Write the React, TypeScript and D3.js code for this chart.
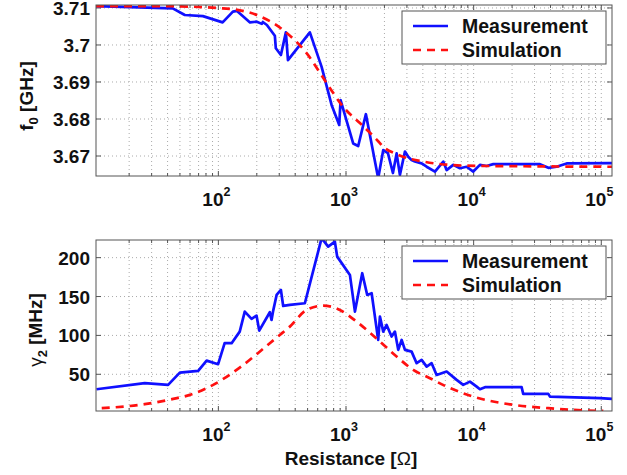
import React, { useEffect, useRef } from "react";
import * as d3 from "d3";

// resonance frequency f0 [GHz] vs resistance [Ohm]
const f0MeasR = [11, 43.9, 54.6, 75.7, 108, 130, 140, 177, 200, 219, 223, 240, 277, 282, 309, 338, 351, 521, 644, 771, 885, 907, 1138, 1246, 1432, 1787, 1958, 2130, 2331, 2492, 2644, 2896, 3073, 3265, 3465, 3911, 4283, 4977, 5782, 6142, 6918, 7811, 8811, 9930, 11200, 12640, 14250, 33100, 38460, 44700, 53550, 121300];
const f0MeasVal = [3.7105, 3.7099, 3.7081, 3.7078, 3.7061, 3.709, 3.7092, 3.7061, 3.7063, 3.7057, 3.7062, 3.7054, 3.7025, 3.6991, 3.6973, 3.7034, 3.6959, 3.7034, 3.6941, 3.6838, 3.6784, 3.6851, 3.6734, 3.6727, 3.6813, 3.664, 3.6716, 3.6708, 3.6654, 3.6707, 3.6649, 3.6712, 3.6698, 3.6689, 3.6685, 3.668, 3.6671, 3.6658, 3.6685, 3.6662, 3.6676, 3.6667, 3.6671, 3.6658, 3.6676, 3.6673, 3.6678, 3.6678, 3.6668, 3.6671, 3.668, 3.6681];
const f0SimR = [11, 34.9, 108, 200, 320, 491, 705, 950, 1285, 1787, 1958, 2492, 4010, 8811, 33100, 121300];
const f0SimVal = [3.7105, 3.7105, 3.7099, 3.7081, 3.7041, 3.6978, 3.6897, 3.6833, 3.6789, 3.674, 3.6725, 3.6705, 3.6685, 3.6674, 3.6672, 3.6671];

// linewidth gamma2 [MHz] vs resistance [Ohm]
const gMeasR = [11.1, 26.5, 40.4, 49.9, 69.5, 80.9, 99.6, 112, 127, 147, 161, 182, 199, 209, 253, 261, 269, 286, 309, 322, 363, 476, 644, 725, 818, 853, 1073, 1175, 1340, 1466, 1588, 1787, 1844, 1958, 2080, 2276, 2416, 2566, 2728, 2896, 3265, 3575, 3911, 4283, 4686, 5128, 6142, 7356, 8286, 9352, 10560, 11200, 12270, 23770, 24450, 38460, 39630, 97720, 121300];
const gMeasVal = [30.8, 38.6, 36.4, 52.2, 54.4, 67.6, 63, 90, 90, 104.9, 130.6, 121.2, 125.5, 106.2, 129.8, 119.9, 131.9, 152, 158.5, 137.9, 139.2, 141.4, 225, 214.1, 220.6, 201.3, 177.8, 130.6, 180, 152, 154.2, 94.2, 124.2, 104.9, 113.5, 98.5, 104.9, 81.4, 94.2, 81.4, 79.2, 64.3, 68.5, 59.9, 64.3, 49.2, 53.5, 42.8, 36.4, 40.6, 34.2, 30.8, 33.4, 33.4, 24.8, 24.8, 21.3, 19.3, 18.4];
const gSimR = [12.2, 26.5, 44.3, 59.8, 91.1, 147, 253, 303, 363, 491, 663, 895, 1211, 1787, 2492, 3364, 4543, 6142, 9930, 20440, 38460, 60390, 103700];
const gSimVal = [6.4, 11.6, 18.4, 23.5, 36.4, 58.6, 90, 100.6, 111.3, 132.8, 138.3, 132.8, 117.7, 94.2, 72.8, 55.7, 45, 34.2, 21.3, 10.7, 6.4, 4.2, 2.9];

const xDecades = [100, 1000, 10000, 100000];
const f0Ticks = [3.67, 3.68, 3.69, 3.7, 3.71];
const gTicks = [50, 100, 150, 200];
const legendLabels = ["Measurement", "Simulation"];

const W = 627;
const H = 475;
const left = 96;
const right = 612;
const FONT = "'Liberation Sans', Arial, Helvetica, sans-serif";

export default function App() {
  const ref = useRef<SVGSVGElement>(null);

  useEffect(() => {
    const svg = d3.select(ref.current);
    svg.selectAll("*").remove();

    const x = d3.scaleLog().domain([11, 121300]).range([left, right]);

    function panel(
      id: string,
      top: number,
      bottom: number,
      yDomain: [number, number],
      yTicks: number[],
      fmt: (d: number) => string,
      meas: [number[], number[]],
      sim: [number[], number[]]
    ) {
      const y = d3.scaleLinear().domain(yDomain).range([bottom, top]);
      const g = svg.append("g");

      g.append("rect")
        .attr("x", left).attr("y", top)
        .attr("width", right - left).attr("height", bottom - top)
        .attr("fill", "white");

      // grid
      const xt = x.ticks();
      g.selectAll(".gx")
        .data(xt)
        .enter()
        .append("line")
        .attr("x1", (d) => x(d)).attr("x2", (d) => x(d))
        .attr("y1", top).attr("y2", bottom)
        .attr("stroke", "#aaa").attr("stroke-width", 1)
        .attr("stroke-dasharray", "1,3");
      g.selectAll(".gy")
        .data(yTicks)
        .enter()
        .append("line")
        .attr("x1", left).attr("x2", right)
        .attr("y1", (d) => y(d)).attr("y2", (d) => y(d))
        .attr("stroke", "#aaa").attr("stroke-width", 1)
        .attr("stroke-dasharray", "1,3");

      // ticks (inward, on all sides)
      xt.forEach((d) => {
        const major = xDecades.includes(d);
        const len = major ? 5 : 3;
        g.append("line").attr("x1", x(d)).attr("x2", x(d))
          .attr("y1", bottom).attr("y2", bottom - len).attr("stroke", "#555");
        g.append("line").attr("x1", x(d)).attr("x2", x(d))
          .attr("y1", top).attr("y2", top + len).attr("stroke", "#555");
      });
      yTicks.forEach((d) => {
        g.append("line").attr("x1", left).attr("x2", left + 5)
          .attr("y1", y(d)).attr("y2", y(d)).attr("stroke", "#555");
        g.append("line").attr("x1", right).attr("x2", right - 5)
          .attr("y1", y(d)).attr("y2", y(d)).attr("stroke", "#555");
      });

      // curves
      g.append("clipPath").attr("id", id)
        .append("rect")
        .attr("x", left).attr("y", top)
        .attr("width", right - left).attr("height", bottom - top);

      const line = d3.line<number>()
        .x((d, i) => x(meas[0][i]))
        .y((d) => y(d));
      g.append("path")
        .attr("clip-path", `url(#${id})`)
        .attr("d", line(meas[1]))
        .attr("fill", "none").attr("stroke", "#1010ff")
        .attr("stroke-width", 2.7).attr("stroke-linejoin", "round");

      const simLine = d3.line<number>()
        .x((d, i) => x(sim[0][i]))
        .y((d) => y(d))
        .curve(d3.curveMonotoneX);
      g.append("path")
        .attr("clip-path", `url(#${id})`)
        .attr("d", simLine(sim[1]))
        .attr("fill", "none").attr("stroke", "#ff1010")
        .attr("stroke-width", 2.7).attr("stroke-dasharray", "8,6");

      g.append("rect")
        .attr("x", left).attr("y", top)
        .attr("width", right - left).attr("height", bottom - top)
        .attr("fill", "none").attr("stroke", "#555").attr("stroke-width", 1);

      // tick labels
      g.selectAll(".ylab")
        .data(yTicks)
        .enter()
        .append("text")
        .attr("x", 90).attr("y", (d) => y(d) + 7)
        .attr("text-anchor", "end")
        .attr("font-family", FONT).attr("font-weight", "bold")
        .attr("font-size", 19).attr("fill", "#111")
        .text((d) => fmt(d));

      xDecades.forEach((d) => {
        const t = g.append("text")
          .attr("x", x(d) - 2).attr("y", bottom + 30)
          .attr("text-anchor", "middle")
          .attr("font-family", FONT).attr("font-weight", "bold")
          .attr("font-size", 19).attr("fill", "#111");
        t.append("tspan").text("10");
        t.append("tspan").attr("dy", -10).attr("font-size", 12.5)
          .text(String(Math.round(Math.log10(d))));
      });

      // legend
      const lx = 402;
      const ly = top + 6;
      g.append("rect")
        .attr("x", lx).attr("y", ly).attr("width", 204).attr("height", 53)
        .attr("fill", "white").attr("stroke", "#555").attr("stroke-width", 1);
      legendLabels.forEach((lab, i) => {
        const yy = ly + 15 + i * 24;
        g.append("line")
          .attr("x1", lx + 11).attr("x2", lx + 46)
          .attr("y1", yy).attr("y2", yy)
          .attr("stroke", i === 0 ? "#1010ff" : "#ff1010")
          .attr("stroke-width", 2.7)
          .attr("stroke-dasharray", i === 0 ? null : "8,6");
        g.append("text")
          .attr("x", lx + 60).attr("y", yy + 7)
          .attr("font-family", FONT).attr("font-weight", "bold")
          .attr("font-size", 19.5).attr("fill", "#111")
          .text(lab);
      });
      return g;
    }

    panel("clipTop", 5, 176, [3.6646, 3.7108], f0Ticks,
      (d) => d3.format("")(+d.toFixed(2)), [f0MeasR, f0MeasVal], [f0SimR, f0SimVal]);
    panel("clipBot", 240, 411, [2.8, 222.7], gTicks,
      (d) => String(d), [gMeasR, gMeasVal], [gSimR, gSimVal]);

    // axis titles
    const yt1 = svg.append("text")
      .attr("transform", "translate(33,96) rotate(-90)")
      .attr("text-anchor", "middle")
      .attr("font-family", FONT).attr("font-weight", "bold")
      .attr("font-size", 19).attr("fill", "#111");
    yt1.append("tspan").text("f");
    yt1.append("tspan").attr("dy", 5).attr("font-size", 13).text("0");
    yt1.append("tspan").attr("dy", -5).text(" [GHz]");

    const yt2 = svg.append("text")
      .attr("transform", "translate(42,330) rotate(-90)")
      .attr("text-anchor", "middle")
      .attr("font-family", FONT).attr("font-weight", "bold")
      .attr("font-size", 19).attr("fill", "#111");
    yt2.append("tspan").attr("font-weight", "normal").text("γ");
    yt2.append("tspan").attr("dy", 5).attr("font-size", 13).text("2");
    yt2.append("tspan").attr("dy", -5).text(" [MHz]");

    const xt = svg.append("text")
      .attr("x", 351).attr("y", 465)
      .attr("text-anchor", "middle")
      .attr("font-family", FONT).attr("font-weight", "bold")
      .attr("font-size", 19).attr("fill", "#111");
    xt.append("tspan").text("Resistance [");
    xt.append("tspan").attr("font-weight", "normal").text("Ω");
    xt.append("tspan").text("]");
  });

  return (
    <svg
      ref={ref}
      width={W}
      height={H}
      style={{ position: "absolute", left: 0, top: 0, background: "white" }}
    />
  );
}
